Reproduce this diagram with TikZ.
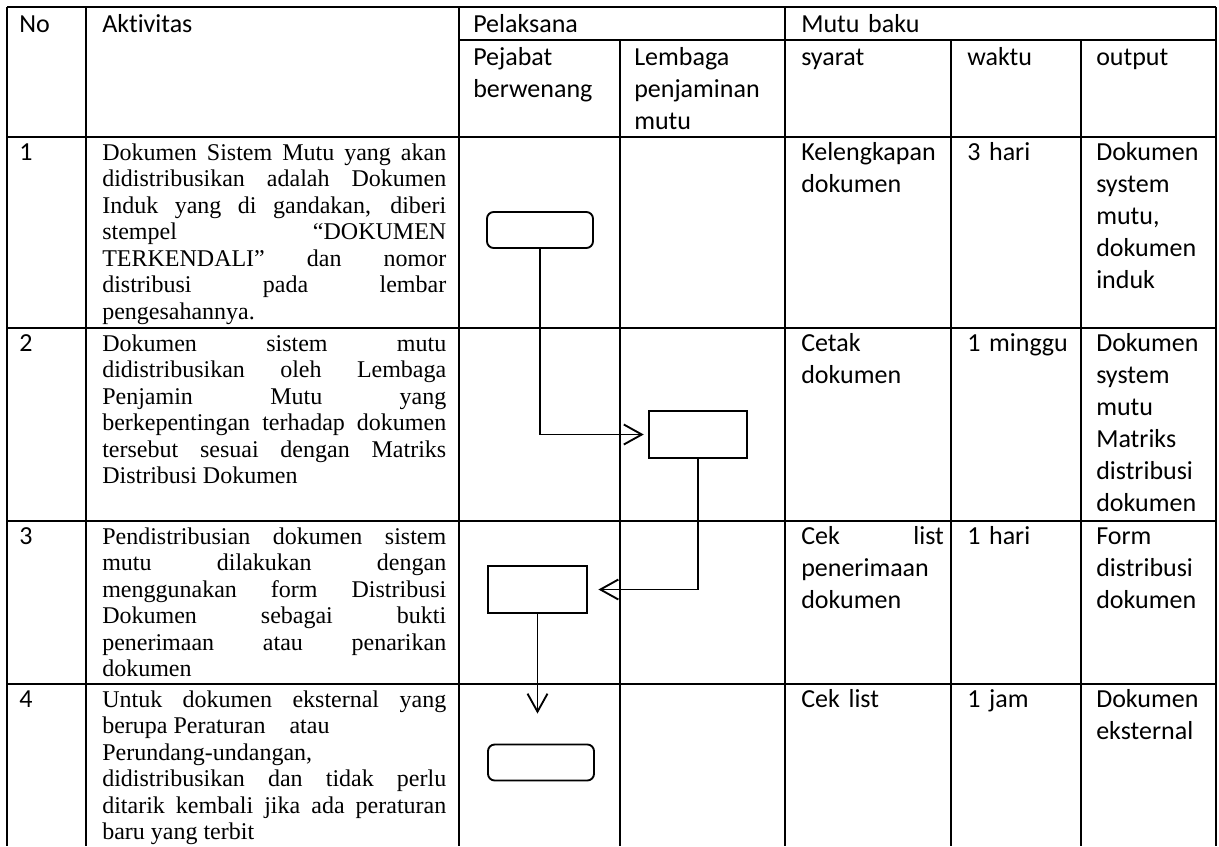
\documentclass[tikz,border=0pt]{standalone}
\usepackage{fontspec}
\setmainfont{Liberation Serif}
\newfontfamily\calibri[Ligatures=NoCommon]{Carlito}
\usepackage{tikz}
\usetikzlibrary{positioning}
\usetikzlibrary{arrows.meta}

\tikzset{
	garis/.style={line width=1.5pt},
	hd/.style={anchor=base west, inner sep=0pt, text width=#1, align=left,
		font=\calibri\fontsize{19.5}{24}\selectfont},
	akt/.style={anchor=base west, inner sep=0pt, text width=258pt, align=justify,
		font=\fontsize{18}{19.9}\selectfont},
	startbox/.style={draw, line width=1.4pt, rounded corners=5pt, minimum width=79.5pt, minimum height=27pt, inner sep=0pt},
	procbox/.style={draw, line width=1.4pt, minimum width=74pt, minimum height=35.25pt, inner sep=0pt},
	panah/.style={line width=1.4pt, -{Straight Barb[length=13.5pt,width=15pt]}}
}

\begin{document}
\hyphenpenalty=10000 \exhyphenpenalty=10000 \tolerance=10000 \hbadness=10000
\begin{tikzpicture}[x=0.75pt,y=-0.75pt]
				\useasboundingbox (0,0) rectangle (1219,846);
				
				% garis tabel
				\draw[garis] (7,7) -- (1216,7);
				\draw[garis] (459,40) -- (1216,40);
				\draw[garis] (7,137) -- (1216,137);
				\draw[garis] (7,328) -- (1216,328);
				\draw[garis] (7,521) -- (1216,521);
				\draw[garis] (7,684) -- (1216,684);
				\foreach \x in {7,86,459,785,1216}
					\draw[garis] (\x,7) -- (\x,846);
				\foreach \x in {620,951,1081}
					\draw[garis] (\x,40) -- (\x,846);
				
				% kepala tabel
				\node[hd=50pt] (no) at (19,32) {No};
				\node[hd=200pt] (akt) at (102,32) {Aktivitas};
				\node[hd=200pt] (pel) at (473,32) {Pelaksana};
				\node[hd=200pt] (mutu) at (801,32) {Mutu baku};
				\node[hd=110pt] (pejabat) at (473,65) {Pejabat\\berwenang};
				\node[hd=110pt] (lembaga) at (634,65) {Lembaga\\penjaminan\\mutu};
				\node[hd=110pt] (syarat) at (801,65) {syarat};
				\node[hd=90pt] (waktu) at (967,65) {waktu};
				\node[hd=90pt] (output) at (1096,65) {output};
				
				% baris 1
				\node[hd=50pt] (n1) at (19,160) {1};
				\node[akt] (a1) at (102,160) {Dokumen Sistem Mutu yang akan\linebreak didistribusikan adalah Dokumen\linebreak Induk yang di gandakan, diberi\linebreak stempel “DOKUMEN\linebreak TERKENDALI” dan nomor\linebreak distribusi pada lembar\linebreak pengesahannya.};
				\node[hd=110pt] (s1) at (801,160) {Kelengkapan\\dokumen};
				\node[hd=90pt] (w1) at (967,160) {3 hari};
				\node[hd=90pt] (o1) at (1096,160) {Dokumen\\system\\mutu,\\dokumen\\induk};
				
				% baris 2
				\node[hd=50pt] (n2) at (19,351) {2};
				\node[akt] (a2) at (102,351) {Dokumen sistem mutu\linebreak didistribusikan oleh Lembaga\linebreak Penjamin Mutu yang\linebreak berkepentingan terhadap dokumen\linebreak tersebut sesuai dengan Matriks\linebreak Distribusi Dokumen};
				\node[hd=110pt] (s2) at (801,351) {Cetak\\dokumen};
				\node[hd=90pt] (w2) at (967,351) {1 minggu};
				\node[hd=90pt] (o2) at (1096,351) {Dokumen\\system\\mutu\\Matriks\\distribusi\\dokumen};
				
				% baris 3
				\node[hd=50pt] (n3) at (19,544) {3};
				\node[akt] (a3) at (102,544) {Pendistribusian dokumen sistem\linebreak mutu dilakukan dengan\linebreak menggunakan form Distribusi\linebreak Dokumen sebagai bukti\linebreak penerimaan atau penarikan\linebreak dokumen};
				\node[hd=107pt, align=justify] (s3) at (801,544) {Cek list\linebreak penerimaan\newline dokumen};
				\node[hd=90pt] (w3) at (967,544) {1 hari};
				\node[hd=90pt] (o3) at (1096,544) {Form\\distribusi\\dokumen};
				
				% baris 4
				\node[hd=50pt] (n4) at (19,707) {4};
				\node[akt] (a4) at (102,707) {Untuk dokumen eksternal yang\linebreak berupa Peraturan\quad atau\newline Perundang-undangan,\newline didistribusikan dan tidak perlu\linebreak ditarik kembali jika ada peraturan\linebreak baru yang terbit};
				\node[hd=110pt] (s4) at (801,707) {Cek list};
				\node[hd=90pt] (w4) at (967,707) {1 jam};
				\node[hd=90pt] (o4) at (1096,707) {Dokumen\\eksternal};
				
				% bagan alir
				\node[startbox] (mulai) at (540,230) {};
				\node[procbox] (cetak) at (698,434.5) {};
				\node[procbox] (bagi) at (537.5,589.5) {};
				\node[startbox] (selesai) at (541,762.5) {};
				
				\draw[panah, shorten >=3pt] (mulai.south) |- (cetak.west);
				\draw[panah, shorten >=8pt] (cetak.south) |- (bagi.east);
				\draw[panah, shorten >=22.5pt] (bagi.south) -- (bagi.south |- selesai.north);
			\end{tikzpicture}
\end{document}
